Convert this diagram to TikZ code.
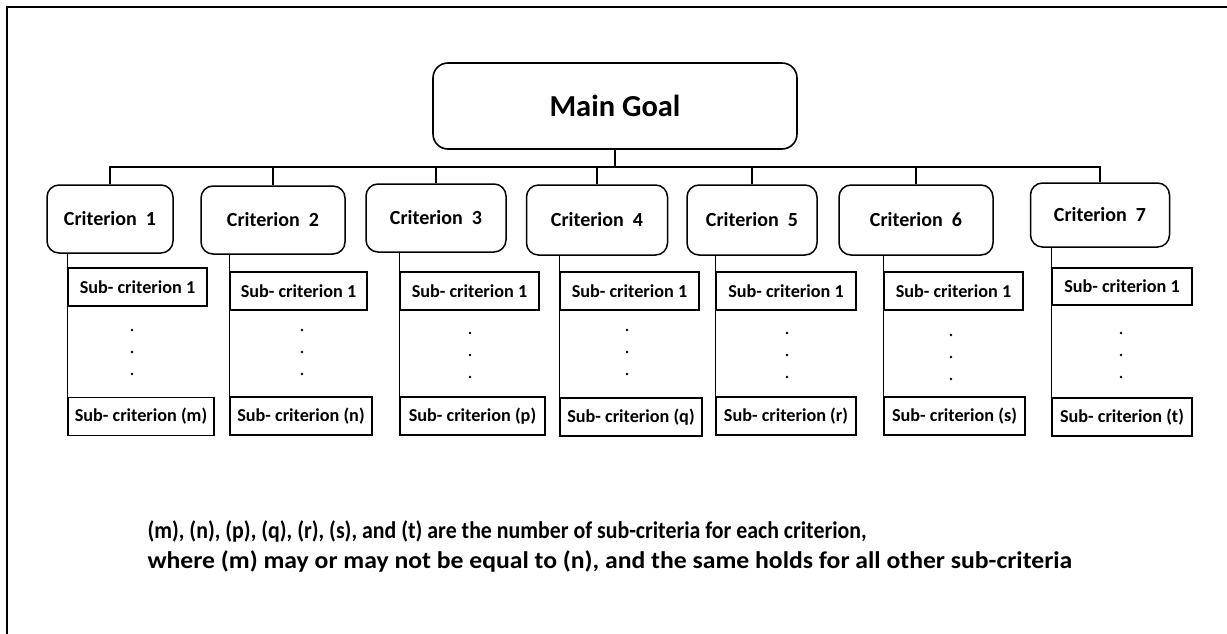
\documentclass[tikz,border=0pt]{standalone}
\usepackage{fontspec}
\setmainfont{Carlito}
\usetikzlibrary{positioning}

\begin{document}
\begin{tikzpicture}[x=1pt, y=-1pt,
    goal/.style={rectangle, draw=black, line width=1.6pt, rounded corners=15pt, minimum width=364pt, minimum height=86pt, inner sep=0pt, font=\fontsize{30.5}{32}\selectfont\bfseries},
    crit/.style={rectangle, draw=black, line width=1.5pt, rounded corners=12pt, minimum height=68pt, inner sep=0pt, font=\fontsize{20}{22}\selectfont\bfseries},
    sub/.style={rectangle, draw=black, line width=1.5pt, minimum height=38pt, inner sep=0pt, font=\fontsize{18.2}{20}\selectfont\bfseries},
    link/.style={line width=1.3pt},
    dot/.style={circle, fill=black, inner sep=0pt, minimum size=2.6pt}
]
    \useasboundingbox (0,0) rectangle (1227,634);
    \draw[line width=2pt] (7,634) -- (7,7) -- (1227,7);

    \node[goal] (main) at (615,106) {Main Goal};
    \coordinate (bus) at (0,167);

    % criteria
    \node[crit, minimum width=126pt] (c1) at (110,219) {Criterion~~1};
    \node[crit, minimum width=144pt] (c2) at (273,220) {Criterion~~2};
    \node[crit, minimum width=140pt] (c3) at (436,218) {Criterion~~3};
    \node[crit, minimum width=141pt, minimum height=70pt] (c4) at (597,220) {Criterion~~4};
    \node[crit, minimum width=130pt, minimum height=70pt] (c5) at (752,220) {Criterion~~5};
    \node[crit, minimum width=154pt, minimum height=70pt] (c6) at (916,220) {Criterion~~6};
    \node[crit, minimum width=139pt, minimum height=64pt] (c7) at (1100,215) {Criterion~~7};

    % first sub-criteria
    \node[sub, minimum width=139pt] (s1) at (137.5,287) {Sub- criterion 1};
    \node[sub, minimum width=137pt] (s2) at (298.5,291) {Sub- criterion 1};
    \node[sub, minimum width=139pt] (s3) at (469.5,291) {Sub- criterion 1};
    \node[sub, minimum width=139pt] (s4) at (629.5,291) {Sub- criterion 1};
    \node[sub, minimum width=140pt] (s5) at (786,291) {Sub- criterion 1};
    \node[sub, minimum width=139pt] (s6) at (953.5,291) {Sub- criterion 1};
    \node[sub, minimum width=140pt, minimum height=37pt] (s7) at (1122,286.5) {Sub- criterion 1};

    % last sub-criteria
    \node[sub, minimum width=146pt] (l1) at (141,416.5) {Sub- criterion (m)};
    \node[sub, minimum width=142pt] (l2) at (301,416) {Sub- criterion (n)};
    \node[sub, minimum width=145pt] (l3) at (472.5,416) {Sub- criterion (p)};
    \node[sub, minimum width=142pt] (l4) at (631,417) {Sub- criterion (q)};
    \node[sub, minimum width=140pt] (l5) at (786,416) {Sub- criterion (r)};
    \node[sub, minimum width=141pt] (l6) at (954.5,416) {Sub- criterion (s)};
    \node[sub, minimum width=140pt] (l7) at (1122,417) {Sub- criterion (t)};

    % tree lines
    \draw[link] (main.south) -- (main.south |- bus);
    \draw[link] (c1.north) -- (c1.north |- bus) -- (c7.north |- bus) -- (c7.north);
    \foreach \i in {2,...,6}
        \draw[link] (c\i.north) -- (c\i.north |- bus);
    \foreach \i in {1,...,7}
        \draw[link] (s\i.west |- c\i.south) -- (l\i.north west);

    % dots
    \foreach \x/\y in {132/330, 302/330, 470/333, 627/330, 787/333, 951/335, 1121/333}
        \foreach \k in {0,1,2}
            \node[dot] at (\x,\y+22*\k) {};

    \node[anchor=west, align=left, font=\fontsize{24}{30}\selectfont\bfseries] (note) at (144,546)
        {\scalebox{0.91}[1]{(m), (n), (p), (q), (r), (s), and (t) are the number of sub-criteria for each criterion,}\\
         \scalebox{1.07}[1]{where (m) may or may not be equal to (n), and the same holds for all other sub-criteria}};
\end{tikzpicture}
\end{document}
